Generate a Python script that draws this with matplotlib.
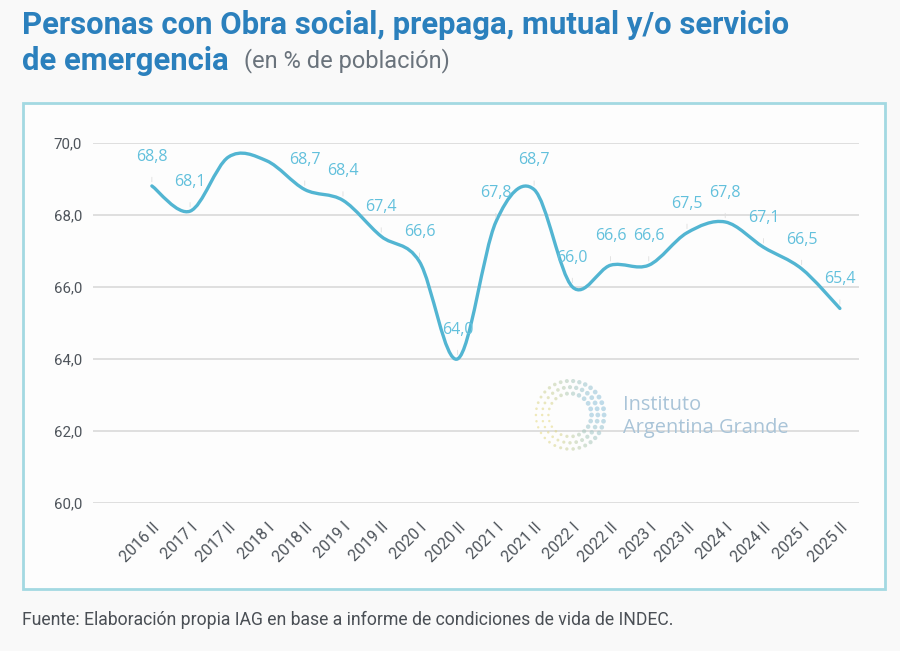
"""
Personas con cobertura de salud (% de población) - IAG / INDEC
"""
import matplotlib
matplotlib.use('Agg')
import matplotlib.pyplot as plt
import numpy as np
from matplotlib.path import Path
from matplotlib.patches import PathPatch, Rectangle

periods = ['2016 II', '2017 I', '2017 II', '2018 I', '2018 II', '2019 I', '2019 II',
           '2020 I', '2020 II', '2021 I', '2021 II', '2022 I', '2022 II', '2023 I',
           '2023 II', '2024 I', '2024 II', '2025 I', '2025 II']
values = [68.8, 68.1, 69.6, 69.5, 68.7, 68.4, 67.4,
          66.7, 64.0, 67.8, 68.7, 66.0, 66.6, 66.6,
          67.5, 67.8, 67.1, 66.5, 65.4]
# labels shown on the chart (None = no label)
labels = ['68,8', '68,1', None, None, '68,7', '68,4', '67,4',
          '66,6', '64,0', '67,8', '68,7', '66,0', '66,6', '66,6',
          '67,5', '67,8', '67,1', '66,5', '65,4']
yticks = [60, 62, 64, 66, 68, 70]

LINE = '#52b5d2'
LABEL = '#62c0dc'
TITLE = '#2b80bd'


def smooth_path(x, y, k=1 / 6):
    # Catmull-Rom curve through the points, as cubic bezier segments
    pts = np.column_stack([x, y]).astype(float)
    padded = np.vstack([pts[0], pts, pts[-1]])
    verts = [pts[0]]
    codes = [Path.MOVETO]
    for i in range(len(pts) - 1):
        p0, p1, p2, p3 = padded[i], padded[i + 1], padded[i + 2], padded[i + 3]
        verts += [p1 + (p2 - p0) * k, p2 - (p3 - p1) * k, p2]
        codes += [Path.CURVE4] * 3
    return Path(verts, codes)


fig = plt.figure(figsize=(9, 6.51), dpi=100)
fig.patch.set_facecolor('#f9f9f9')

# framed box around the chart
fig.patches.append(Rectangle((23 / 900, 1 - 589 / 651), 862 / 900, 486 / 651,
                             transform=fig.transFigure, facecolor='#fdfdfd',
                             edgecolor='#a3d9e2', lw=2, zorder=-10))

ax = fig.add_axes([93 / 900, 1 - 503 / 651, 766 / 900, 360.3 / 651])
ax.set_facecolor('none')
x = np.arange(len(periods))
ax.add_patch(PathPatch(smooth_path(x, values), facecolor='none', edgecolor=LINE,
                       lw=2.4, capstyle='round', joinstyle='round', zorder=3))
ax.plot(x, values, lw=0, alpha=0)

for xi, v, lab in zip(x, values, labels):
    if lab is None:
        continue
    ax.annotate(lab, (xi, v), xytext=(0, 21), textcoords='offset points',
                ha='center', va='center', color=LABEL, fontsize=11.5,
                family='Open Sans', zorder=4,
                arrowprops=dict(arrowstyle='-', color='#dedede', lw=0.6,
                                shrinkA=7, shrinkB=3))

ax.set_xlim(-1.54, 18.5)
ax.set_ylim(60, 70)
ax.set_yticks(yticks)
ax.set_yticklabels([f'{t:.1f}'.replace('.', ',') for t in yticks],
                   fontsize=10.8, color='#4e545b', family='Roboto')
ax.set_xticks(x)
ax.set_xticklabels(periods, rotation=45, ha='right', rotation_mode='anchor',
                   fontsize=11.5, color='#4e545b', family='Roboto')
ax.tick_params(axis='both', length=0)
ax.tick_params(axis='x', pad=12)
ax.tick_params(axis='y', pad=8)
ax.grid(axis='y', color='#dcdcdc', lw=1.3)
ax.set_axisbelow(True)
for s in ax.spines.values():
    s.set_visible(False)

# watermark logo: ring of dots + name
lg = fig.add_axes([530 / 900, 1 - 455 / 651, 80 / 900, 80 / 651])
lg.set_xlim(-1.15, 1.15)
lg.set_ylim(-1.15, 1.15)
lg.set_aspect('equal')
lg.axis('off')
for r, n in [(0.62, 22), (0.8, 28), (0.98, 34)]:
    th = np.linspace(0, 2 * np.pi, n, endpoint=False)
    w = (np.cos(th - 0.3) + 1) / 2
    cols = [(0.55 + 0.35 * (1 - a), 0.75 + 0.1 * (1 - a), 0.85 - 0.35 * (1 - a)) for a in w]
    lg.scatter(r * np.cos(th), r * np.sin(th), s=3 + 9 * w, c=cols, alpha=0.55, lw=0)
fig.text(623 / 900, 1 - 405 / 651, 'Instituto', fontsize=14.4, color='#a9c4d8',
         family='Open Sans', va='center')
fig.text(623 / 900, 1 - 428 / 651, 'Argentina Grande', fontsize=14.4, color='#a9c4d8',
         family='Open Sans', va='center')

# titles
fig.text(22 / 900, 1 - 25 / 651, 'Personas con Obra social, prepaga, mutual y/o servicio',
         fontsize=22.4, fontweight='bold', color=TITLE, family='Roboto', va='center')
fig.text(22 / 900, 1 - 61 / 651, 'de emergencia', fontsize=22.4, fontweight='bold',
         color=TITLE, family='Roboto', va='center')
fig.text(244 / 900, 1 - 61 / 651, '(en % de población)', fontsize=17, color='#6a737c',
         family='Roboto', va='center')

fig.text(22 / 900, 1 - 620 / 651,
         'Fuente: Elaboración propia IAG en base a informe de condiciones de vida de INDEC.',
         fontsize=12.7, color='#4a4f55', family='Roboto', va='center')

fig.savefig('out.png', dpi=100, facecolor=fig.get_facecolor())
